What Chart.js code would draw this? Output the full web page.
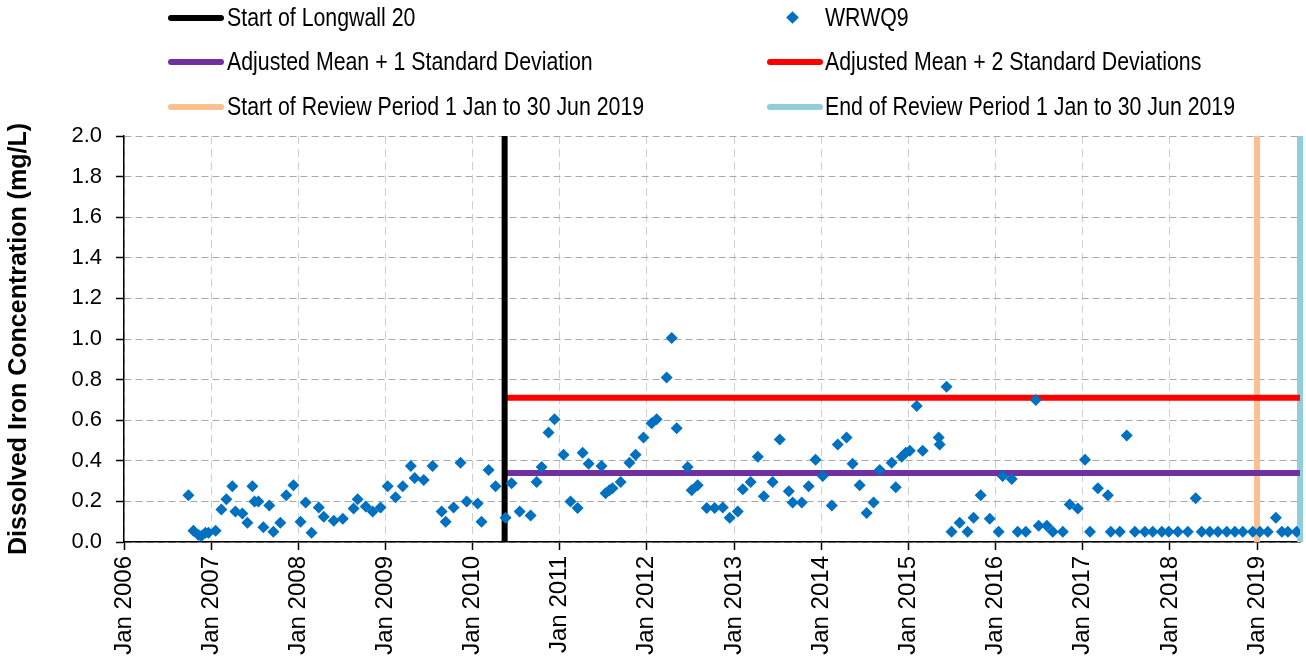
<!DOCTYPE html>
<html>
<head>
<meta charset="utf-8">
<script src="https://cdn.jsdelivr.net/npm/chart.js@4.4.1/dist/chart.umd.min.js"></script>
<style>
    body { margin: 0; background: #fff; }
    #wrap { position: relative; width: 1306px; height: 662px; }
    #chart { position: absolute; left: 0; top: 0; }
    .lg-line { position: absolute; width: 56px; height: 6px; border-radius: 3px; }
    .lg-text {
        position: absolute; font-family: "Liberation Sans", Arial, sans-serif; font-size: 26px;
        line-height: 30px; color: #000; white-space: nowrap;
        transform: scaleX(0.82); transform-origin: left center;
    }
    .lg-diamond { position: absolute; width: 9px; height: 9px; background: #0070C0; transform: rotate(45deg); }
</style>
</head>
<body>
<div id="wrap">
    <canvas id="chart" width="1306" height="662"></canvas>
    <div class="lg-line" style="left:168px;top:15px;background:#000"></div>
    <div class="lg-text" style="left:227px;top:2px">Start of Longwall 20</div>
    <div class="lg-diamond" style="left:788px;top:13px"></div>
    <div class="lg-text" style="left:825px;top:2px">WRWQ9</div>
    <div class="lg-line" style="left:168px;top:59px;background:#7030A0"></div>
    <div class="lg-text" style="left:227px;top:46px">Adjusted Mean + 1 Standard Deviation</div>
    <div class="lg-line" style="left:767px;top:59px;background:#FF0000"></div>
    <div class="lg-text" style="left:825px;top:46px">Adjusted Mean + 2 Standard Deviations</div>
    <div class="lg-line" style="left:168px;top:104px;background:#FAC090"></div>
    <div class="lg-text" style="left:227px;top:91px">Start of Review Period 1 Jan to 30 Jun 2019</div>
    <div class="lg-line" style="left:767px;top:104px;background:#92CDDC"></div>
    <div class="lg-text" style="left:825px;top:91px">End of Review Period 1 Jan to 30 Jun 2019</div>
</div>
<script>
// WRWQ9 dissolved iron samples (mg/L)
const sampleDates = [
    '2006-09-28', '2006-10-19', '2006-11-09', '2006-11-21', '2006-12-08', '2006-12-21',
    '2007-01-20', '2007-02-13', '2007-03-06', '2007-03-31', '2007-04-13', '2007-05-12',
    '2007-06-02', '2007-06-23', '2007-07-02', '2007-07-18', '2007-08-08', '2007-09-02',
    '2007-09-19', '2007-10-18', '2007-11-12', '2007-12-12',
    '2008-01-11', '2008-02-01', '2008-02-26', '2008-03-27', '2008-04-17', '2008-05-29',
    '2008-07-06', '2008-08-20', '2008-09-06', '2008-10-10', '2008-11-08', '2008-12-11',
    '2009-01-10', '2009-02-12', '2009-03-14', '2009-04-17', '2009-05-03', '2009-06-10',
    '2009-07-17', '2009-08-24', '2009-09-10', '2009-10-13', '2009-11-11', '2009-12-07',
    '2010-01-22', '2010-02-07', '2010-03-09', '2010-04-07', '2010-05-19', '2010-06-13',
    '2010-07-17', '2010-09-01', '2010-09-26', '2010-10-17', '2010-11-15', '2010-12-10',
    '2011-01-17', '2011-02-15', '2011-03-17', '2011-04-07', '2011-05-02', '2011-06-25',
    '2011-07-12', '2011-07-28', '2011-08-10', '2011-09-13', '2011-10-20', '2011-11-15',
    '2011-12-18',
    '2012-01-21', '2012-02-11', '2012-03-24', '2012-04-14', '2012-05-05', '2012-06-20',
    '2012-07-07', '2012-08-01', '2012-09-08', '2012-10-11', '2012-11-14', '2012-12-13',
    '2013-01-16', '2013-02-06', '2013-03-11', '2013-04-10', '2013-05-05', '2013-06-11',
    '2013-07-11', '2013-08-18', '2013-09-03', '2013-10-11', '2013-11-09', '2013-12-08',
    '2014-01-07', '2014-02-14', '2014-03-11', '2014-04-17', '2014-05-12', '2014-06-11',
    '2014-07-10', '2014-08-08', '2014-09-03', '2014-10-23', '2014-11-09', '2014-12-04',
    '2014-12-21',
    '2015-01-07', '2015-02-05', '2015-03-02', '2015-05-08', '2015-05-12', '2015-06-10',
    '2015-07-01', '2015-08-04', '2015-09-06', '2015-10-01', '2015-10-31', '2015-12-08',
    '2016-01-14', '2016-01-31', '2016-03-09', '2016-04-03', '2016-05-07', '2016-06-18',
    '2016-06-30', '2016-08-03', '2016-08-28', '2016-10-09', '2016-11-07', '2016-12-11',
    '2017-01-10', '2017-01-31', '2017-03-05', '2017-04-16', '2017-04-28', '2017-06-05',
    '2017-07-04', '2017-08-07', '2017-09-18', '2017-10-21', '2017-11-28', '2017-12-27',
    '2018-02-03', '2018-03-17', '2018-04-19', '2018-05-14', '2018-06-17', '2018-07-21',
    '2018-08-27', '2018-09-30', '2018-11-02', '2018-12-14',
    '2019-01-13', '2019-02-15', '2019-03-21', '2019-04-15', '2019-05-10', '2019-06-16'
];
const ironValues = [
    0.23, 0.055, 0.035, 0.03, 0.045, 0.045,
    0.055, 0.16, 0.21, 0.275, 0.15, 0.14,
    0.095, 0.275, 0.20, 0.20, 0.073, 0.18,
    0.05, 0.095, 0.23, 0.28,
    0.10, 0.195, 0.045, 0.17, 0.125, 0.105,
    0.115, 0.165, 0.21, 0.175, 0.15, 0.17,
    0.275, 0.22, 0.275, 0.375, 0.315, 0.305,
    0.375, 0.15, 0.10, 0.17, 0.39, 0.20,
    0.19, 0.10, 0.355, 0.275, 0.12, 0.29,
    0.15, 0.13, 0.295, 0.37, 0.54, 0.605,
    0.43, 0.20, 0.167, 0.44, 0.385, 0.375,
    0.24, 0.255, 0.265, 0.295, 0.39, 0.43,
    0.515,
    0.585, 0.605, 0.81, 1.005, 0.56, 0.37,
    0.255, 0.28, 0.167, 0.167, 0.17, 0.12,
    0.15, 0.26, 0.295, 0.42, 0.225, 0.295,
    0.505, 0.25, 0.195, 0.195, 0.275, 0.405,
    0.325, 0.18, 0.48, 0.515, 0.385, 0.28,
    0.143, 0.195, 0.355, 0.39, 0.27, 0.42,
    0.44,
    0.45, 0.67, 0.45, 0.515, 0.48, 0.765,
    0.05, 0.095, 0.05, 0.12, 0.23, 0.115,
    0.05, 0.325, 0.31, 0.05, 0.05, 0.70,
    0.08, 0.08, 0.05, 0.05, 0.185, 0.165,
    0.405, 0.05, 0.265, 0.23, 0.05, 0.05,
    0.525, 0.05, 0.05, 0.05, 0.05, 0.05,
    0.05, 0.05, 0.215, 0.05, 0.05, 0.05,
    0.05, 0.05, 0.05, 0.05,
    0.05, 0.05, 0.12, 0.05, 0.05, 0.05
];

const xTickYears = [2006, 2007, 2008, 2009, 2010, 2011, 2012, 2013, 2014, 2015, 2016, 2017, 2018, 2019];
const axisStart = '2006-01-01';
const longwallStart = '2010-05-15';
const reviewStart = '2019-01-01';
const reviewEnd = '2019-06-30';
const adjMeanPlus1SD = 0.34;
const adjMeanPlus2SD = 0.71;
const yMin = 0;
const yMax = 2.0;
const yStep = 0.2;

const t = (d) => Date.parse(d);
const FONT = '"Liberation Sans", Arial, sans-serif';

const vLine = (date, color, label) => ({
    type: 'line',
    label: label,
    data: [{ x: t(date), y: yMin }, { x: t(date), y: yMax }],
    borderColor: color,
    borderWidth: 6,
    pointRadius: 0,
    clip: false,
    order: 1
});
const hLine = (value, color, label) => ({
    type: 'line',
    label: label,
    data: [{ x: t(longwallStart), y: value }, { x: t(reviewEnd), y: value }],
    borderColor: color,
    borderWidth: 6,
    pointRadius: 0,
    order: 1
});

new Chart(document.getElementById('chart'), {
    type: 'scatter',
    data: {
        datasets: [
            {
                label: 'WRWQ9',
                data: sampleDates.map((d, i) => ({ x: t(d), y: ironValues[i] })),
                pointStyle: 'rectRot',
                pointRadius: 6,
                pointBackgroundColor: '#0070C0',
                pointBorderWidth: 0,
                order: 0
            },
            vLine(longwallStart, '#000000', 'Start of Longwall 20'),
            hLine(adjMeanPlus1SD, '#7030A0', 'Adjusted Mean + 1 Standard Deviation'),
            hLine(adjMeanPlus2SD, '#FF0000', 'Adjusted Mean + 2 Standard Deviations'),
            vLine(reviewStart, '#FAC090', 'Start of Review Period 1 Jan to 30 Jun 2019'),
            vLine(reviewEnd, '#92CDDC', 'End of Review Period 1 Jan to 30 Jun 2019')
        ]
    },
    options: {
        responsive: false,
        animation: false,
        devicePixelRatio: 1,
        layout: { padding: { top: 136, right: 6, left: 0, bottom: 0 } },
        plugins: {
            legend: { display: false },
            tooltip: { enabled: false }
        },
        scales: {
            x: {
                type: 'linear',
                min: t(axisStart),
                max: t(reviewEnd),
                afterBuildTicks: (scale) => {
                    scale.ticks = xTickYears.map((y) => ({ value: Date.UTC(y, 0, 1) }));
                },
                afterFit: (scale) => { scale.height = 120; },
                ticks: {
                    autoSkip: false,
                    minRotation: 90,
                    maxRotation: 90,
                    padding: 6,
                    color: '#000',
                    font: { family: FONT, size: 24 },
                    callback: (value) => 'Jan ' + new Date(value).getUTCFullYear()
                },
                grid: {
                    color: '#cfcfcf',
                    lineWidth: 1,
                    tickColor: '#000',
                    tickLength: 8,
                    tickWidth: 1.5
                },
                border: { color: '#000', width: 1.5, dash: [8, 5] }
            },
            y: {
                min: yMin,
                max: yMax,
                afterFit: (scale) => { scale.width = 124; },
                ticks: {
                    stepSize: yStep,
                    padding: 14,
                    color: '#000',
                    font: { family: FONT, size: 22 },
                    callback: (value) => value.toFixed(1)
                },
                grid: {
                    color: '#a9a9a9',
                    lineWidth: 1,
                    tickColor: '#000',
                    tickLength: 8,
                    tickWidth: 1.5
                },
                border: { color: '#000', width: 1.5, dash: [7, 4] },
                title: {
                    display: true,
                    text: 'Dissolved Iron Concentration (mg/L)',
                    color: '#000',
                    font: { family: FONT, size: 25, weight: 'bold' },
                    padding: { top: 4, bottom: 0 }
                }
            }
        }
    }
});
</script>
</body>
</html>
